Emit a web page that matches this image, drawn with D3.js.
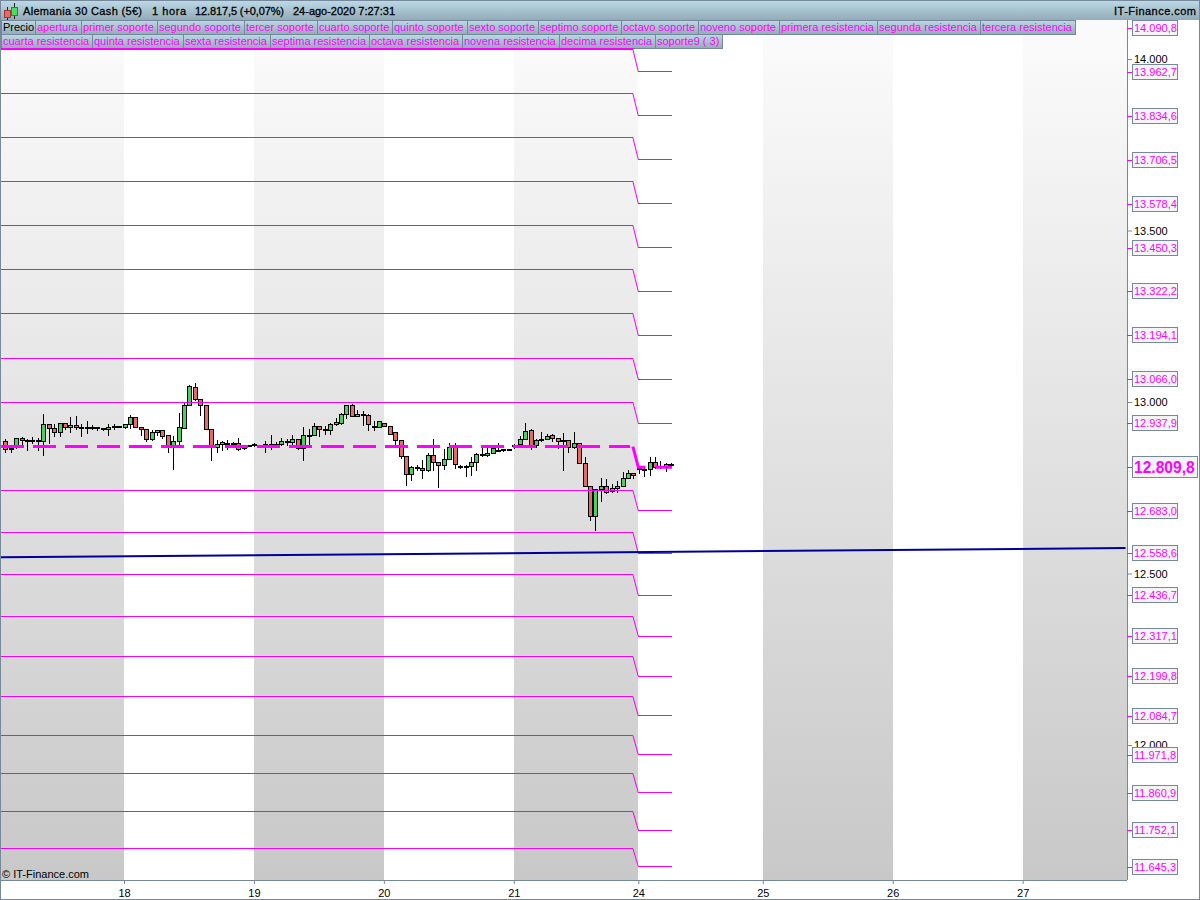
<!DOCTYPE html>
<html><head><meta charset="utf-8">
<script src="https://cdn.jsdelivr.net/npm/d3@7"></script>
<style>html,body{margin:0;padding:0;background:#fff}svg{display:block}text{font-family:"Liberation Sans",Arial,sans-serif}</style>
</head><body><svg id="c" width="1200" height="900"></svg>
<script>
// ---------- DATA ----------
const opens =[12885,12861,12870,12895,12889,12887,12887,12886,12933,12924,12910,12936,12927,12932,12927,12925,12925,12927,12922,12919,12928,12929,12927,12933,12954,12927,12919,12892,12910,12916,12901,12870,12884,12924,12989,13041,13006,12989,12919,12866,12875,12880,
12880,12879,12873,12873,12876,12873,12875,12875,12875,12877,12885,12882,12891,12863,12902,12903,12929,12921,12918,12933,12936,12965,12991,12959,12965,12962,12930,12927,12936,12930,12910,12889,12840,12790,12810,12805,12799,12843,12825,12816,12831,12866,
12813,12812,12812,12825,12846,12845,12851,12860,12861,12861,12871,12877,12890,12918,12874,12892,12892,12901,12895,12887,12889,12866,12880,12822,12754,12665,12746,12755,12740,12749,12754,12778,12793,12805,12803,12802,12825,12812,12809,12817];
const closes=[12861,12863,12895,12889,12887,12887,12886,12933,12922,12910,12936,12927,12932,12927,12926,12924,12926,12922,12919,12927,12929,12928,12933,12954,12927,12919,12892,12910,12916,12900,12870,12884,12927,12989,13044,13006,12989,12919,12869,12875,12881,12879,
12879,12861,12863,12872,12877,12874,12874,12876,12877,12886,12884,12891,12863,12901,12903,12930,12921,12918,12933,12939,12965,12991,12959,12965,12963,12933,12927,12942,12930,12906,12889,12840,12790,12810,12805,12799,12845,12825,12816,12831,12866,12817,
12811,12811,12825,12848,12847,12851,12863,12859,12861,12860,12873,12890,12915,12873,12889,12889,12900,12895,12886,12886,12866,12880,12822,12754,12665,12746,12755,12737,12749,12755,12778,12793,12787,12802,12803,12825,12809,12811,12818,12817];
const highs =[12892,12865,12895,12899,12892,12899,12896,12965,12936,12936,12936,12939,12956,12959,12936,12945,12933,12927,12924,12936,12936,12931,12933,12962,12956,12927,12922,12919,12916,12919,12901,12901,12968,12999,13050,13056,13009,12989,12919,12888,12885,12890,
12882,12896,12873,12873,12881,12875,12887,12905,12882,12895,12892,12905,12891,12928,12921,12939,12929,12931,12939,12953,12968,12991,12994,12977,12973,12965,12944,12945,12939,12930,12910,12889,12840,12814,12817,12831,12850,12892,12826,12863,12880,12880,
12817,12817,12841,12851,12873,12868,12868,12880,12863,12863,12877,12902,12939,12921,12892,12913,12907,12907,12895,12909,12889,12913,12880,12841,12754,12746,12778,12775,12761,12771,12795,12802,12793,12805,12814,12839,12839,12829,12822,12822];
const lows  =[12852,12852,12863,12873,12858,12878,12858,12844,12879,12899,12899,12917,12910,12917,12899,12907,12917,12914,12914,12902,12917,12926,12920,12922,12926,12902,12883,12886,12902,12892,12852,12803,12873,12922,12989,13004,12958,12917,12829,12851,12858,12861,
12873,12856,12861,12868,12868,12868,12852,12861,12868,12873,12873,12868,12860,12827,12873,12902,12897,12905,12905,12931,12934,12950,12957,12955,12931,12916,12916,12926,12929,12904,12876,12833,12754,12769,12800,12775,12797,12800,12749,12802,12831,12805,
12805,12780,12785,12800,12839,12841,12848,12855,12853,12857,12863,12873,12889,12861,12866,12882,12890,12882,12863,12800,12851,12863,12819,12751,12654,12625,12707,12732,12735,12735,12753,12777,12775,12790,12782,12785,12806,12805,12795,12811];

const priceTicks=[14000,13500,13000,12500,12000];
const dayLabels=["18","19","20","21","24","25","26","27"];
const dayBars=[0,24,48,72,95,118,142,166];   // bar index at which each day starts
const firstBar=-22, lastBar=101, axisStartBar=-22.9, axisEndBar=185.2;

const prevResistances=[13000,13127,13258,13386,13515,13643,13771,13899,14028,14156];
const prevOpen=12870;
const prevSupports=[12742,12620,12497,12375,12258,12141,12028,11917,11806,11698];
const resistances=[12937.9,13066.0,13194.1,13322.2,13450.3,13578.4,13706.5,13834.6,13962.7,14090.8];
const currentOpen=12809.8;
const supports=[12683.0,12558.6,12436.7,12317.1,12199.8,12084.7,11971.8,11860.9,11752.1,11645.3];
const levelSwitchBar=94, levelStartBar=95;

const trendBars=[-22.9,185];
const trendValues=[12547,12574];

const tabsRow1=["Precio","apertura","primer soporte","segundo soporte","tercer soporte","cuarto soporte","quinto soporte","sexto soporte","septimo soporte","octavo soporte","noveno soporte","primera resistencia","segunda resistencia","tercera resistencia"];
const tabsRow2=["cuarta resistencia","quinta resistencia","sexta resistencia","septima resistencia","octava resistencia","novena resistencia","decima resistencia","soporte9 ( 3)"];
const titleParts=["Alemania 30 Cash (5€)","1 hora","12.817,5 (+0,07%)","24-ago-2020 7:27:31"];
const fmt=v=>{const s=v.toFixed(1).replace(".",",");const [a,b]=s.split(",");return a.slice(0,-3)+"."+a.slice(-3)+","+b;};
const fmtTick=v=>{const a=String(v);return a.slice(0,-3)+"."+a.slice(-3);};

// ---------- SCALES ----------
const svg=d3.select("#c");
const plotR=1127, plotB=880;
const x=d3.scaleLinear().domain([0,95]).range([124,638.3]);
const y=d3.scaleLinear().domain([12000,14000]).range([745,59]);
const axisCol="#75899a", mag="#ff00ff";
const cx=i=>Math.round(x(i)+0.5)+0.5;

const defs=svg.append("defs");
const g1=defs.append("linearGradient").attr("id","bg").attr("gradientUnits","userSpaceOnUse").attr("x1",0).attr("x2",0).attr("y1",48).attr("y2",880);
g1.append("stop").attr("offset",0).attr("stop-color","#fafafa");
g1.append("stop").attr("offset",1).attr("stop-color","#c8c8c8");
const g2=defs.append("linearGradient").attr("id","bar").attr("x1",0).attr("x2",0).attr("y1",0).attr("y2",1);
g2.append("stop").attr("offset",0).attr("stop-color","#bcd8e6");
g2.append("stop").attr("offset",1).attr("stop-color","#93abb8");
defs.append("clipPath").attr("id","plot").append("rect").attr("x",1).attr("y",0).attr("width",plotR-1).attr("height",plotB);

// ---------- DAY BANDS ----------
const edges=[axisStartBar,...dayBars,axisEndBar];
const plot=svg.append("g").attr("clip-path","url(#plot)");
plot.selectAll("rect.band").data(d3.pairs(edges)).join("rect").attr("class","band")
  .attr("x",d=>x(d[0])).attr("y",0).attr("width",d=>x(d[1])-x(d[0])).attr("height",plotB)
  .attr("fill",(d,i)=>i%2==0?"url(#bg)":"#fff").attr("shape-rendering","crispEdges");

// ---------- CANDLES ----------
const idx=d3.range(opens.length);
const barOf=k=>firstBar+k;
const cg=plot.append("g").attr("shape-rendering","crispEdges");
cg.selectAll("line").data(idx).join("line")
  .attr("x1",k=>cx(barOf(k))).attr("x2",k=>cx(barOf(k))).attr("y1",k=>y(highs[k])).attr("y2",k=>y(lows[k]))
  .attr("stroke","#000");
cg.selectAll("rect").data(idx).join("rect")
  .attr("x",k=>cx(barOf(k))-2).attr("width",4)
  .attr("y",k=>y(Math.max(opens[k],closes[k])))
  .attr("height",k=>Math.max(1,Math.abs(y(opens[k])-y(closes[k]))))
  .attr("fill",k=>closes[k]>=opens[k]?"#4bcf5f":"#e26a6a").attr("stroke","#000");

// ---------- LEVELS ----------
const line=d3.line().x(d=>x(d[0])).y(d=>y(d[1]));
const pairsAll=[...prevSupports.map((p,i)=>[p,supports[i]]),...prevResistances.map((p,i)=>[p,resistances[i]])];
const lg=plot.append("g").attr("fill","none").attr("stroke","#f800f4").attr("stroke-width",1);
lg.selectAll("path.a").data(pairsAll).join("path").attr("class","a").attr("shape-rendering","crispEdges")
  .attr("d",d=>line([[axisStartBar,d[0]],[levelSwitchBar,d[0]]]));
lg.selectAll("path.b").data(pairsAll).join("path").attr("class","b")
  .attr("d",d=>line([[levelSwitchBar,d[0]],[levelStartBar,d[1]]]));
lg.selectAll("path.c").data(pairsAll).join("path").attr("class","c").attr("shape-rendering","crispEdges")
  .attr("d",d=>line([[levelStartBar,d[1]],[lastBar+0.2,d[1]]]));
plot.append("path").attr("fill","none").attr("shape-rendering","crispEdges").attr("d",line([[axisStartBar,prevOpen],[levelSwitchBar-0.6,prevOpen]]))
  .attr("stroke",mag).attr("stroke-width",3).attr("stroke-dasharray","22.7 9.3").attr("stroke-dashoffset",-1);
plot.append("path").attr("fill","none").attr("d",line([[levelSwitchBar,prevOpen],[levelStartBar,currentOpen],[lastBar+0.2,currentOpen]]))
  .attr("stroke",mag).attr("stroke-width",3).attr("stroke-dasharray","28.5 10 18");

// ---------- TRENDLINE ----------
plot.append("path").attr("d",line(trendBars.map((b,i)=>[b,trendValues[i]])))
  .attr("fill","none").attr("stroke","#000099").attr("stroke-width",2);

// ---------- AXES ----------
const gx=svg.append("g").attr("transform",`translate(0,${plotB})`)
  .call(d3.axisBottom(x).tickValues(dayBars).tickFormat((d,i)=>dayLabels[i]).tickSize(4).tickPadding(5));
gx.select(".domain").remove();
gx.selectAll("line").attr("stroke",axisCol);
gx.selectAll("text").attr("font-size",11).attr("fill","#000").style("font-family",'"Liberation Sans"');

const gy=svg.append("g").attr("transform",`translate(${plotR},0)`)
  .call(d3.axisRight(y).tickValues(priceTicks).tickFormat(fmtTick).tickSize(5).tickPadding(0));
gy.select(".domain").remove();
gy.selectAll("line").attr("stroke",axisCol);
gy.selectAll("text").attr("x",7).attr("font-size",11).attr("fill","#000").style("font-family",'"Liberation Sans"');

svg.append("line").attr("x1",plotR+0.5).attr("x2",plotR+0.5).attr("y1",20).attr("y2",plotB).attr("stroke",axisCol);
svg.append("line").attr("x1",0).attr("x2",plotR).attr("y1",plotB+0.5).attr("y2",plotB+0.5).attr("stroke",axisCol);
svg.append("rect").attr("x",0.5).attr("y",0.5).attr("width",1199).attr("height",899).attr("fill","none").attr("stroke",axisCol);

// ---------- PRICE TAGS ----------
const tags=svg.append("g").selectAll("g").data([...resistances,...supports]).join("g")
  .attr("transform",d=>`translate(${plotR},${Math.round(y(d))})`);
tags.append("line").attr("x1",0).attr("x2",5).attr("y1",0.5).attr("y2",0.5).attr("stroke",mag);
tags.append("rect").attr("x",5.5).attr("y",-7.5).attr("width",45).attr("height",15).attr("fill","#f4f4f4").attr("stroke",axisCol);
tags.append("text").attr("x",7).attr("y",4).attr("font-size",11).attr("fill",mag).text(fmt);
const cur=svg.append("g").attr("transform",`translate(${plotR},${Math.round(y(currentOpen))})`);
cur.append("line").attr("x1",0).attr("x2",5).attr("y1",0.5).attr("y2",0.5).attr("stroke",mag);
cur.append("rect").attr("x",5.5).attr("y",-10.5).attr("width",65).attr("height",21).attr("fill","#f4f4f4").attr("stroke",axisCol);
cur.append("text").attr("x",7).attr("y",6).attr("font-size",15.6).attr("font-weight","bold").attr("fill",mag).text(fmt(currentOpen));

// ---------- HEADER ----------
svg.append("rect").attr("x",1).attr("y",1).attr("width",1198).attr("height",19).attr("fill","url(#bar)");
svg.append("line").attr("x1",0).attr("x2",1200).attr("y1",0.5).attr("y2",0.5).attr("stroke",axisCol);
const titleX=[23,152,195,293], titleW=[119,34,89,102];
svg.append("g").selectAll("text").data(titleParts).join("text")
  .attr("x",(d,i)=>titleX[i]).attr("y",15).attr("font-size",11).attr("fill","#000").attr("stroke","#000").attr("stroke-width",0.3)
  .attr("textLength",(d,i)=>titleW[i]).attr("lengthAdjust","spacing").text(d=>d);
svg.append("text").attr("x",1114).attr("y",15).attr("textLength",82).attr("lengthAdjust","spacing").attr("font-size",11).attr("fill","#000").attr("stroke","#000").attr("stroke-width",0.3).text("IT-Finance.com");
// icon
const icon=svg.append("g").attr("shape-rendering","crispEdges");
icon.append("line").attr("x1",7.5).attr("x2",7.5).attr("y1",7).attr("y2",20).attr("stroke","#222");
icon.append("line").attr("x1",14.5).attr("x2",14.5).attr("y1",3).attr("y2",19).attr("stroke","#222");
icon.append("rect").attr("x",4.5).attr("y",10.5).attr("width",6).attr("height",7).attr("fill","#e26a6a").attr("stroke","#a33");
icon.append("rect").attr("x",11.5).attr("y",7.5).attr("width",6).attr("height",8).attr("fill","#4bdc5f").attr("stroke","#283");

// ---------- LEGEND TABS ----------
function tabRow(names,startX,top,h){
  let cxp=startX;
  names.forEach(n=>{
    const g=svg.append("g");
    const r=g.append("rect").attr("y",top+0.5).attr("height",h).attr("fill","url(#bar)").attr("stroke",axisCol).attr("shape-rendering","crispEdges");
    const t=g.append("text").attr("x",cxp+2).attr("y",top+11).attr("font-size",11).attr("fill",n==="Precio"?"#000":mag).text(n);
    const w=Math.round(t.node().getComputedTextLength()+(n==="Precio"?2.5:5));
    r.attr("x",cxp+0.5).attr("width",w);
    cxp+=w;
  });
}
tabRow(tabsRow1,1,20,14);
tabRow(tabsRow2,1,34,14);
svg.append("line").attr("x1",1).attr("x2",634).attr("y1",48.5).attr("y2",48.5).attr("stroke",mag);

svg.append("text").attr("x",2).attr("y",878).attr("font-size",11).attr("fill","#000").text("© IT-Finance.com");
</script></body></html>
